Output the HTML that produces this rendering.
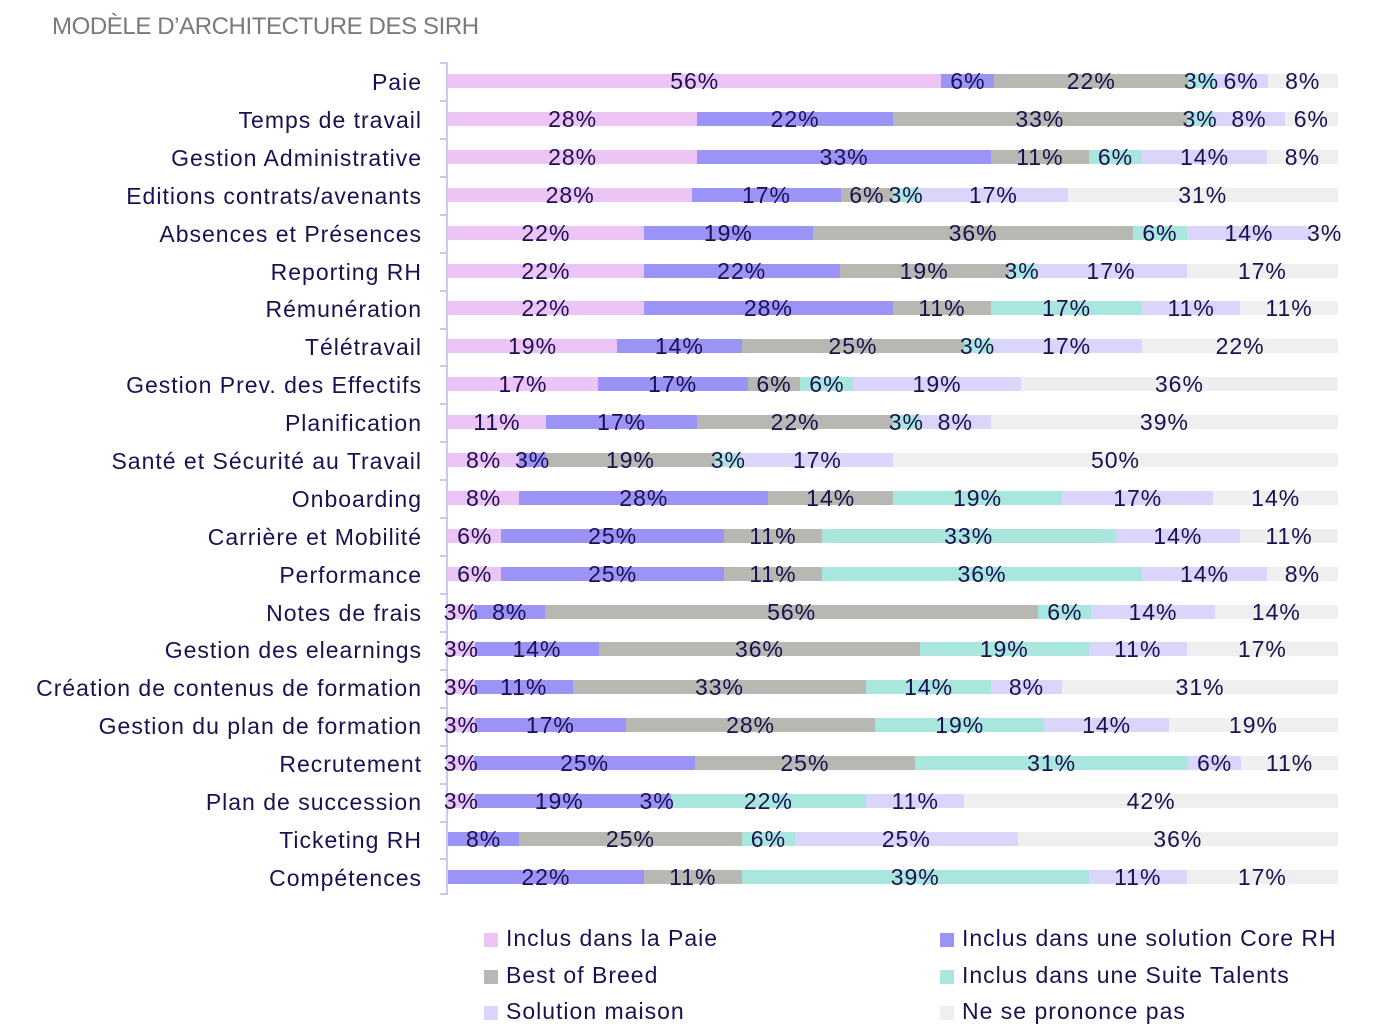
<!DOCTYPE html>
<html><head><meta charset="utf-8"><style>
body{margin:0;width:1375px;height:1036px;background:#fff;font-family:"Liberation Sans",sans-serif;color:#1b1150;position:relative;overflow:hidden}
.t{position:absolute;left:52px;top:13px;font-size:24px;color:#7a7a7a;letter-spacing:-0.4px}
.lab{position:absolute;right:953px;font-size:23px;letter-spacing:1px;white-space:nowrap;line-height:26px}
.row{position:absolute;left:448px;width:890px;height:14px;display:flex}
.row div{min-width:0;flex-basis:0;position:relative;display:flex;justify-content:center;align-items:center;white-space:nowrap;font-size:23px;letter-spacing:1px;overflow:visible}
.row div span{position:relative;z-index:2}
.a{background:#ecc4f6}.b{background:#9c93f7}.c{background:#b6b8b1}.d{background:#a9e6dd}.e{background:#d9d5fb}.f{background:#efefef}
.axis{position:absolute;left:446px;top:62px;width:2px;height:833px;background:#cdc8f2}
.tick{position:absolute;left:440px;width:7px;height:2px;background:#cdc8f2}
.lg{position:absolute;font-size:23px;letter-spacing:1px;white-space:nowrap}
.lg i{display:inline-block;width:14px;height:14px;margin-right:8px;vertical-align:-1px}
</style></head><body>
<div class="t">MODÈLE D’ARCHITECTURE DES SIRH</div>
<div class="axis"></div>
<div class="tick" style="top:62px"></div><div class="tick" style="top:100px"></div><div class="tick" style="top:138px"></div><div class="tick" style="top:176px"></div><div class="tick" style="top:214px"></div><div class="tick" style="top:252px"></div><div class="tick" style="top:290px"></div><div class="tick" style="top:328px"></div><div class="tick" style="top:365px"></div><div class="tick" style="top:403px"></div><div class="tick" style="top:441px"></div><div class="tick" style="top:479px"></div><div class="tick" style="top:517px"></div><div class="tick" style="top:555px"></div><div class="tick" style="top:593px"></div><div class="tick" style="top:631px"></div><div class="tick" style="top:669px"></div><div class="tick" style="top:707px"></div><div class="tick" style="top:745px"></div><div class="tick" style="top:783px"></div><div class="tick" style="top:821px"></div><div class="tick" style="top:858px"></div><div class="tick" style="top:893px"></div>

<div class="lab" style="top:69px">Paie</div>
<div class="row" style="top:74px"><div class="a" style="flex-grow:56"><span>56%</span></div><div class="b" style="flex-grow:6"><span>6%</span></div><div class="c" style="flex-grow:22"><span>22%</span></div><div class="d" style="flex-grow:3"><span>3%</span></div><div class="e" style="flex-grow:6"><span>6%</span></div><div class="f" style="flex-grow:8"><span>8%</span></div></div>
<div class="lab" style="top:107px">Temps de travail</div>
<div class="row" style="top:112px"><div class="a" style="flex-grow:28"><span>28%</span></div><div class="b" style="flex-grow:22"><span>22%</span></div><div class="c" style="flex-grow:33"><span>33%</span></div><div class="d" style="flex-grow:3"><span>3%</span></div><div class="e" style="flex-grow:8"><span>8%</span></div><div class="f" style="flex-grow:6"><span>6%</span></div></div>
<div class="lab" style="top:145px">Gestion Administrative</div>
<div class="row" style="top:150px"><div class="a" style="flex-grow:28"><span>28%</span></div><div class="b" style="flex-grow:33"><span>33%</span></div><div class="c" style="flex-grow:11"><span>11%</span></div><div class="d" style="flex-grow:6"><span>6%</span></div><div class="e" style="flex-grow:14"><span>14%</span></div><div class="f" style="flex-grow:8"><span>8%</span></div></div>
<div class="lab" style="top:183px">Editions contrats/avenants</div>
<div class="row" style="top:188px"><div class="a" style="flex-grow:28"><span>28%</span></div><div class="b" style="flex-grow:17"><span>17%</span></div><div class="c" style="flex-grow:6"><span>6%</span></div><div class="d" style="flex-grow:3"><span>3%</span></div><div class="e" style="flex-grow:17"><span>17%</span></div><div class="f" style="flex-grow:31"><span>31%</span></div></div>
<div class="lab" style="top:221px">Absences et Présences</div>
<div class="row" style="top:226px"><div class="a" style="flex-grow:22"><span>22%</span></div><div class="b" style="flex-grow:19"><span>19%</span></div><div class="c" style="flex-grow:36"><span>36%</span></div><div class="d" style="flex-grow:6"><span>6%</span></div><div class="e" style="flex-grow:14"><span>14%</span></div><div class="f" style="flex-grow:3"><span>3%</span></div></div>
<div class="lab" style="top:259px">Reporting RH</div>
<div class="row" style="top:264px"><div class="a" style="flex-grow:22"><span>22%</span></div><div class="b" style="flex-grow:22"><span>22%</span></div><div class="c" style="flex-grow:19"><span>19%</span></div><div class="d" style="flex-grow:3"><span>3%</span></div><div class="e" style="flex-grow:17"><span>17%</span></div><div class="f" style="flex-grow:17"><span>17%</span></div></div>
<div class="lab" style="top:296px">Rémunération</div>
<div class="row" style="top:301px"><div class="a" style="flex-grow:22"><span>22%</span></div><div class="b" style="flex-grow:28"><span>28%</span></div><div class="c" style="flex-grow:11"><span>11%</span></div><div class="d" style="flex-grow:17"><span>17%</span></div><div class="e" style="flex-grow:11"><span>11%</span></div><div class="f" style="flex-grow:11"><span>11%</span></div></div>
<div class="lab" style="top:334px">Télétravail</div>
<div class="row" style="top:339px"><div class="a" style="flex-grow:19"><span>19%</span></div><div class="b" style="flex-grow:14"><span>14%</span></div><div class="c" style="flex-grow:25"><span>25%</span></div><div class="d" style="flex-grow:3"><span>3%</span></div><div class="e" style="flex-grow:17"><span>17%</span></div><div class="f" style="flex-grow:22"><span>22%</span></div></div>
<div class="lab" style="top:372px">Gestion Prev. des Effectifs</div>
<div class="row" style="top:377px"><div class="a" style="flex-grow:17"><span>17%</span></div><div class="b" style="flex-grow:17"><span>17%</span></div><div class="c" style="flex-grow:6"><span>6%</span></div><div class="d" style="flex-grow:6"><span>6%</span></div><div class="e" style="flex-grow:19"><span>19%</span></div><div class="f" style="flex-grow:36"><span>36%</span></div></div>
<div class="lab" style="top:410px">Planification</div>
<div class="row" style="top:415px"><div class="a" style="flex-grow:11"><span>11%</span></div><div class="b" style="flex-grow:17"><span>17%</span></div><div class="c" style="flex-grow:22"><span>22%</span></div><div class="d" style="flex-grow:3"><span>3%</span></div><div class="e" style="flex-grow:8"><span>8%</span></div><div class="f" style="flex-grow:39"><span>39%</span></div></div>
<div class="lab" style="top:448px">Santé et Sécurité au Travail</div>
<div class="row" style="top:453px"><div class="a" style="flex-grow:8"><span>8%</span></div><div class="b" style="flex-grow:3"><span>3%</span></div><div class="c" style="flex-grow:19"><span>19%</span></div><div class="d" style="flex-grow:3"><span>3%</span></div><div class="e" style="flex-grow:17"><span>17%</span></div><div class="f" style="flex-grow:50"><span>50%</span></div></div>
<div class="lab" style="top:486px">Onboarding</div>
<div class="row" style="top:491px"><div class="a" style="flex-grow:8"><span>8%</span></div><div class="b" style="flex-grow:28"><span>28%</span></div><div class="c" style="flex-grow:14"><span>14%</span></div><div class="d" style="flex-grow:19"><span>19%</span></div><div class="e" style="flex-grow:17"><span>17%</span></div><div class="f" style="flex-grow:14"><span>14%</span></div></div>
<div class="lab" style="top:524px">Carrière et Mobilité</div>
<div class="row" style="top:529px"><div class="a" style="flex-grow:6"><span>6%</span></div><div class="b" style="flex-grow:25"><span>25%</span></div><div class="c" style="flex-grow:11"><span>11%</span></div><div class="d" style="flex-grow:33"><span>33%</span></div><div class="e" style="flex-grow:14"><span>14%</span></div><div class="f" style="flex-grow:11"><span>11%</span></div></div>
<div class="lab" style="top:562px">Performance</div>
<div class="row" style="top:567px"><div class="a" style="flex-grow:6"><span>6%</span></div><div class="b" style="flex-grow:25"><span>25%</span></div><div class="c" style="flex-grow:11"><span>11%</span></div><div class="d" style="flex-grow:36"><span>36%</span></div><div class="e" style="flex-grow:14"><span>14%</span></div><div class="f" style="flex-grow:8"><span>8%</span></div></div>
<div class="lab" style="top:600px">Notes de frais</div>
<div class="row" style="top:605px"><div class="a" style="flex-grow:3"><span>3%</span></div><div class="b" style="flex-grow:8"><span>8%</span></div><div class="c" style="flex-grow:56"><span>56%</span></div><div class="d" style="flex-grow:6"><span>6%</span></div><div class="e" style="flex-grow:14"><span>14%</span></div><div class="f" style="flex-grow:14"><span>14%</span></div></div>
<div class="lab" style="top:637px">Gestion des elearnings</div>
<div class="row" style="top:642px"><div class="a" style="flex-grow:3"><span>3%</span></div><div class="b" style="flex-grow:14"><span>14%</span></div><div class="c" style="flex-grow:36"><span>36%</span></div><div class="d" style="flex-grow:19"><span>19%</span></div><div class="e" style="flex-grow:11"><span>11%</span></div><div class="f" style="flex-grow:17"><span>17%</span></div></div>
<div class="lab" style="top:675px">Création de contenus de formation</div>
<div class="row" style="top:680px"><div class="a" style="flex-grow:3"><span>3%</span></div><div class="b" style="flex-grow:11"><span>11%</span></div><div class="c" style="flex-grow:33"><span>33%</span></div><div class="d" style="flex-grow:14"><span>14%</span></div><div class="e" style="flex-grow:8"><span>8%</span></div><div class="f" style="flex-grow:31"><span>31%</span></div></div>
<div class="lab" style="top:713px">Gestion du plan de formation</div>
<div class="row" style="top:718px"><div class="a" style="flex-grow:3"><span>3%</span></div><div class="b" style="flex-grow:17"><span>17%</span></div><div class="c" style="flex-grow:28"><span>28%</span></div><div class="d" style="flex-grow:19"><span>19%</span></div><div class="e" style="flex-grow:14"><span>14%</span></div><div class="f" style="flex-grow:19"><span>19%</span></div></div>
<div class="lab" style="top:751px">Recrutement</div>
<div class="row" style="top:756px"><div class="a" style="flex-grow:3"><span>3%</span></div><div class="b" style="flex-grow:25"><span>25%</span></div><div class="c" style="flex-grow:25"><span>25%</span></div><div class="d" style="flex-grow:31"><span>31%</span></div><div class="e" style="flex-grow:6"><span>6%</span></div><div class="f" style="flex-grow:11"><span>11%</span></div></div>
<div class="lab" style="top:789px">Plan de succession</div>
<div class="row" style="top:794px"><div class="a" style="flex-grow:3"><span>3%</span></div><div class="b" style="flex-grow:19"><span>19%</span></div><div class="b" style="flex-grow:3"><span>3%</span></div><div class="d" style="flex-grow:22"><span>22%</span></div><div class="e" style="flex-grow:11"><span>11%</span></div><div class="f" style="flex-grow:42"><span>42%</span></div></div>
<div class="lab" style="top:827px">Ticketing RH</div>
<div class="row" style="top:832px"><div class="b" style="flex-grow:8"><span>8%</span></div><div class="c" style="flex-grow:25"><span>25%</span></div><div class="d" style="flex-grow:6"><span>6%</span></div><div class="e" style="flex-grow:25"><span>25%</span></div><div class="f" style="flex-grow:36"><span>36%</span></div></div>
<div class="lab" style="top:865px">Compétences</div>
<div class="row" style="top:870px"><div class="b" style="flex-grow:22"><span>22%</span></div><div class="c" style="flex-grow:11"><span>11%</span></div><div class="d" style="flex-grow:39"><span>39%</span></div><div class="e" style="flex-grow:11"><span>11%</span></div><div class="f" style="flex-grow:17"><span>17%</span></div></div>

<div class="lg" style="left:484px;top:925px"><i class="a"></i>Inclus dans la Paie</div>
<div class="lg" style="left:940px;top:925px"><i class="b"></i>Inclus dans une solution Core RH</div>
<div class="lg" style="left:484px;top:962px"><i class="c"></i>Best of Breed</div>
<div class="lg" style="left:940px;top:962px"><i class="d"></i>Inclus dans une Suite Talents</div>
<div class="lg" style="left:484px;top:998px"><i class="e"></i>Solution maison</div>
<div class="lg" style="left:940px;top:998px"><i class="f"></i>Ne se prononce pas</div>
</body></html>
